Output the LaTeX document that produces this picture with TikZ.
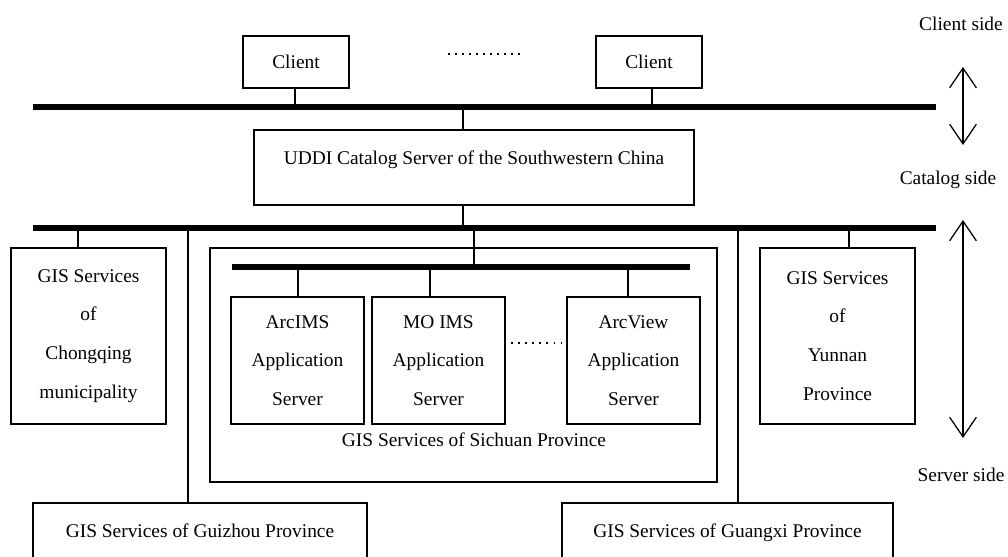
\documentclass[tikz,border=0pt]{standalone}
\usepackage{fontspec}
\setmainfont{Liberation Serif}
\usetikzlibrary{arrows.meta}

\tikzset{
  px size/.style 2 args={minimum width=#1*0.025cm, minimum height=#2*0.025cm},
  box/.style={draw, line width=1pt, inner sep=0pt, align=center,
    font=\fontsize{13.8}{27.6}\selectfont},
  lbl/.style={inner sep=0pt, font=\fontsize{13.8}{16}\selectfont},
  bus/.style={line width=4.3pt},
  link/.style={line width=2pt},
  thinlink/.style={line width=1.5pt},
  dots/.style={line width=1.2pt, dash pattern=on 1.2pt off 3.8pt},
  updown/.style={{Straight Barb[length=14pt,width=19pt]}-{Straight Barb[length=14pt,width=19pt]}, line width=0.9pt},
}

\begin{document}
\begin{tikzpicture}[x=0.025cm, y=-0.025cm]
    \useasboundingbox (0,0) rectangle (1008,557);
    \clip (0,0) rectangle (1008,557);

    % Buses
    \coordinate (topL) at (33,107);  \coordinate (topR) at (936,107);
    \coordinate (midL) at (33,228);  \coordinate (midR) at (936,228);
    \coordinate (inL) at (232,267);  \coordinate (inR) at (690,267);
    \draw[bus] (topL) -- (topR);
    \draw[bus] (midL) -- (midR);
    \draw[bus] (inL) -- (inR);

    % Client side
    \node[box, px size={106}{52}] (cl1) at (296,62) {Client};
    \node[box, px size={106}{52}] (cl2) at (649,62) {Client};
    \coordinate (dotsL) at (448,54); \coordinate (dotsR) at (520,54);
    \draw[dots] (dotsL) -- (dotsR);
    \foreach \x/\n in {295/cl1, 652/cl2}{
        \draw[thinlink] (\n.south -| \x,0) -- (\x,0 |- topL);
    }

    % Catalog server
    \node[box, px size={440}{75}] (uddi) at (474,167.5) {};
    \node[lbl] (uddiL) at (474,160) {UDDI Catalog Server of the Southwestern China};
    \draw[link] (463,0 |- topL) -- (uddi.north -| 463,0);
    \draw[link] (uddi.south -| 463,0) -- (463,0 |- midL);

    % Provinces
    \node[box, px size={155}{176}] (cq) at (88.5,336) {GIS Services\\of\\Chongqing\\municipality};
    \node[box, px size={155}{176}] (yn) at (837.5,336) {GIS Services\\of\\Yunnan\\Province};
    \node[box, px size={334}{59}, text height=9.5pt, text depth=3pt] (gz) at (200,532.5) {GIS Services of Guizhou Province};
    \node[box, px size={331}{59}, text height=9.5pt, text depth=3pt] (gx) at (727.5,532.5) {GIS Services of Guangxi Province};
    \foreach \x/\n in {78/cq, 849/yn, 188/gz, 738/gx}{
        \draw[link] (\x,0 |- midL) -- (\n.north -| \x,0);
    }

    % Sichuan
    \node[box, px size={507}{234}] (sc) at (463.5,365) {};
    \node[lbl] (scL) at (474,440) {GIS Services of Sichuan Province};
    \node[box, px size={133}{127}] (ims) at (297.5,360.5) {ArcIMS\\Application\\Server};
    \node[box, px size={133}{127}] (mo) at (438.5,360.5) {MO IMS\\Application\\Server};
    \node[box, px size={133}{127}] (av) at (633.5,360.5) {ArcView\\Application\\Server};
    \draw[dots] ([xshift=4pt]mo.east |- 0,343) -- ([xshift=-3pt]av.west |- 0,343);
    \draw[link] (474,0 |- midL) -- (474,0 |- inL);
    \foreach \x/\n in {298/ims, 430/mo, 628/av}{
        \draw[link] (\x,0 |- inL) -- (\n.north -| \x,0);
    }

    % Sides
    \node[lbl] (cside) at (961,24) {Client side};
    \node[lbl] (catside) at (948,180) {Catalog side};
    \node[lbl] (sside) at (961,475) {Server side};
    \coordinate (a1) at (963,67);  \coordinate (a2) at (963,145);
    \coordinate (b1) at (963,220); \coordinate (b2) at (963,438);
    \draw[updown] (a1) -- (a2);
    \draw[updown] (b1) -- (b2);
\end{tikzpicture}
\end{document}
